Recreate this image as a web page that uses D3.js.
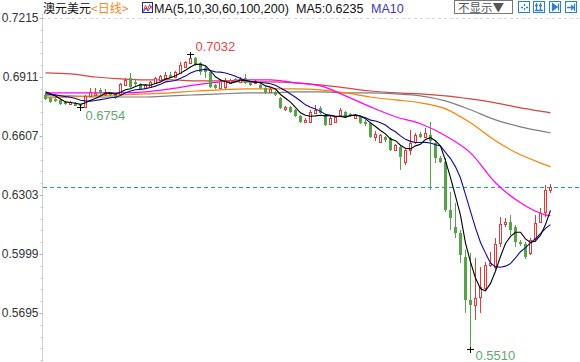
<!DOCTYPE html>
<html><head><meta charset="utf-8">
<script src="https://cdn.jsdelivr.net/npm/d3@7"></script>
<style>body{margin:0;background:#fff;} svg{display:block;}</style>
</head><body>
<svg id="c" width="580" height="362"></svg>
<script>
// ---------- data (AUD/USD daily) ----------
const openP = [0.6819,0.6803,0.6798,0.6793,0.6783,0.6772,0.6778,0.6767,0.6757,0.6814,
0.6819,0.6845,0.6824,0.6829,0.6824,0.6824,0.6870,0.6906,0.6886,0.6875,
0.6855,0.6860,0.6881,0.6896,0.6906,0.6922,0.6911,0.6932,0.6963,0.6984,
0.7009,0.6984,0.6958,0.6937,0.6870,0.6855,0.6860,0.6881,0.6901,0.6886,
0.6906,0.6886,0.6881,0.6870,0.6855,0.6834,0.6834,0.6803,0.6747,0.6757,
0.6742,0.6711,0.6680,0.6680,0.6726,0.6752,0.6716,0.6669,0.6680,0.6716,
0.6731,0.6721,0.6700,0.6705,0.6680,0.6675,0.6602,0.6577,0.6602,0.6597,
0.6536,0.6551,0.6474,0.6536,0.6577,0.6618,0.6602,0.6613,0.6572,0.6494,
0.6474,0.6227,0.6139,0.6108,0.5984,0.5763,0.5737,0.5778,0.5825,0.5943,
0.5933,0.6057,0.6154,0.6165,0.6139,0.6062,0.6051,0.6005,0.6082,0.6165,
0.6216,0.6330];
const highP = [0.6829,0.6808,0.6803,0.6798,0.6788,0.6788,0.6783,0.6772,0.6819,0.6855,
0.6855,0.6855,0.6850,0.6834,0.6829,0.6881,0.6906,0.6932,0.6896,0.6881,
0.6875,0.6891,0.6911,0.6922,0.6937,0.6937,0.6942,0.6989,0.6994,0.7032,
0.7014,0.6989,0.6968,0.6942,0.6875,0.6901,0.6906,0.6901,0.6906,0.6911,
0.6927,0.6891,0.6896,0.6875,0.6860,0.6855,0.6839,0.6808,0.6762,0.6762,
0.6747,0.6716,0.6700,0.6742,0.6767,0.6762,0.6721,0.6711,0.6711,0.6752,
0.6736,0.6726,0.6721,0.6711,0.6690,0.6680,0.6633,0.6618,0.6608,0.6602,
0.6566,0.6556,0.6546,0.6639,0.6623,0.6628,0.6649,0.6680,0.6587,0.6505,
0.6494,0.6319,0.6263,0.6124,0.6021,0.6005,0.5979,0.5933,0.5959,0.6010,
0.6082,0.6190,0.6185,0.6201,0.6149,0.6072,0.6062,0.6082,0.6201,0.6237,
0.6355,0.6360];
const lowP = [0.6793,0.6778,0.6783,0.6767,0.6767,0.6767,0.6762,0.6754,0.6757,0.6808,
0.6814,0.6819,0.6814,0.6814,0.6798,0.6819,0.6865,0.6855,0.6865,0.6845,
0.6850,0.6855,0.6875,0.6891,0.6901,0.6906,0.6906,0.6927,0.6958,0.6978,
0.6968,0.6922,0.6906,0.6855,0.6850,0.6850,0.6850,0.6875,0.6886,0.6881,
0.6875,0.6865,0.6875,0.6850,0.6824,0.6829,0.6814,0.6747,0.6736,0.6726,
0.6705,0.6675,0.6675,0.6675,0.6721,0.6721,0.6659,0.6664,0.6675,0.6711,
0.6700,0.6705,0.6695,0.6669,0.6659,0.6597,0.6582,0.6572,0.6577,0.6530,
0.6530,0.6433,0.6458,0.6510,0.6566,0.6597,0.6597,0.6330,0.6469,0.6469,
0.6216,0.6124,0.6082,0.5954,0.5696,0.5510,0.5660,0.5696,0.5815,0.5933,
0.5918,0.6036,0.6139,0.6098,0.6036,0.6041,0.5974,0.5995,0.6062,0.6160,
0.6190,0.6314];
const closeP = [0.6798,0.6783,0.6788,0.6772,0.6772,0.6783,0.6762,0.6762,0.6814,0.6834,
0.6829,0.6829,0.6834,0.6819,0.6803,0.6875,0.6896,0.6860,0.6875,0.6850,
0.6870,0.6886,0.6906,0.6917,0.6922,0.6906,0.6937,0.6973,0.6989,0.7009,
0.6973,0.6937,0.6937,0.6860,0.6855,0.6891,0.6896,0.6896,0.6891,0.6901,
0.6881,0.6870,0.6891,0.6855,0.6829,0.6850,0.6819,0.6752,0.6757,0.6731,
0.6711,0.6680,0.6690,0.6731,0.6742,0.6726,0.6664,0.6700,0.6705,0.6742,
0.6705,0.6711,0.6716,0.6675,0.6669,0.6602,0.6618,0.6613,0.6587,0.6536,
0.6561,0.6499,0.6536,0.6572,0.6613,0.6602,0.6623,0.6582,0.6494,0.6474,
0.6227,0.6185,0.6108,0.5995,0.5763,0.5737,0.5773,0.5830,0.5943,0.5954,
0.6051,0.6154,0.6165,0.6124,0.6062,0.6051,0.5984,0.6072,0.6160,0.6211,
0.6330,0.6345];
// closes before the first visible bar (seed MA5 / MA10)
const priorCloses = [0.6808,0.6814,0.6819,0.6814,0.6814,0.6834,0.6845,0.6850,0.6845];

// long moving averages at every 5th bar
const maIdx  = [0,5,10,15,20,25,30,35,40,45,50,55,60,65,70,75,80,85,90,95,100,101];
const ma30  = [0.6829,0.6829,0.6829,0.6829,0.6834,0.6850,0.6870,0.6886,0.6896,0.6896,0.6881,0.6865,0.6814,0.6757,0.6706,0.6670,0.6608,0.6520,0.6366,0.6263,0.6201,0.6196];
const ma60  = [0.6803,0.6808,0.6814,0.6819,0.6824,0.6829,0.6839,0.6845,0.6850,0.6850,0.6850,0.6845,0.6829,0.6808,0.6793,0.6778,0.6747,0.6675,0.6582,0.6510,0.6458,0.6448];
const ma100 = [0.6814,0.6814,0.6808,0.6808,0.6808,0.6814,0.6819,0.6824,0.6829,0.6829,0.6834,0.6834,0.6829,0.6829,0.6824,0.6814,0.6788,0.6742,0.6690,0.6654,0.6628,0.6623];
const ma200 = [0.6932,0.6927,0.6911,0.6901,0.6896,0.6896,0.6891,0.6891,0.6886,0.6886,0.6881,0.6870,0.6855,0.6839,0.6829,0.6824,0.6814,0.6798,0.6778,0.6752,0.6731,0.6726];

const yTicks = [0.7215,0.6911,0.6607,0.6303,0.5999,0.5695];
const markHigh = {i:29, v:0.7032, label:"0.7032"};
const markLows = [{i:7, v:0.6754, label:"0.6754"},{i:85, v:0.5510, label:"0.5510"}];

// ---------- drawing ----------
const svg = d3.select('#c');
const N = closeP.length;
const x = d3.scaleLinear().domain([0, N-1]).range([45.5, 550.5]);
const y = d3.scaleLinear().domain([0.6911, 0.5695]).range([77, 313]);
const RED = '#e23a3a', GREEN = '#56a34c';
const FONT = '"Liberation Sans", Arial, "Noto Sans CJK SC", sans-serif';

// top dotted line
svg.append('line').attr('x1',42).attr('x2',580).attr('y1',18.5).attr('y2',18.5)
  .attr('stroke','#d8d8d8').attr('stroke-dasharray','3,3');

// y axis
svg.append('line').attr('x1',42.5).attr('x2',42.5).attr('y1',14).attr('y2',362).attr('stroke','#d0d0d0');
const minorStep = (yTicks[0]-yTicks[1])/5;
const minors = d3.range(1, 60).map(k => yTicks[0] - k*minorStep)
  .filter((v,k) => (k+1)%5 !== 0 && y(v) < 362);
svg.append('g').selectAll('line').data(minors).join('line')
  .attr('x1',40.5).attr('x2',42.5).attr('y1',d=>Math.round(y(d))+0.5).attr('y2',d=>Math.round(y(d))+0.5)
  .attr('stroke','#c8c8c8');
const ax = d3.axisLeft(y).tickValues(yTicks).tickSize(3).tickPadding(1).tickFormat(d3.format('.4f'));
const axg = svg.append('g').attr('transform','translate(42.5,0)').call(ax);
axg.select('.domain').remove();
axg.selectAll('.tick line').attr('stroke','#8cbbe6');
axg.selectAll('.tick text').attr('fill','#333').style('font-family',FONT).style('font-size','12px');

// current price dashed line
svg.append('line').attr('x1',43).attr('x2',580)
  .attr('y1',Math.round(y(closeP[N-1]))+0.5).attr('y2',Math.round(y(closeP[N-1]))+0.5)
  .attr('stroke','#1e8cf0').attr('stroke-width',1).attr('stroke-dasharray','4,3');

// moving averages
const allC = priorCloses.concat(closeP);
const maN = n => closeP.map((c,i) => { const j = i + priorCloses.length; return d3.mean(allC.slice(j-n+1, j+1)); });
const ma5 = maN(5), ma10 = maN(10);
const lineI = d3.line().x((d,i)=>x(i)).y(d=>y(d));
const lineS = d3.line().x((d,k)=>x(maIdx[k])).y(d=>y(d)).curve(d3.curveMonotoneX);
[[ma200,'#d9443f'],[ma100,'#7f7f7f'],[ma60,'#ff8000'],[ma30,'#ff00ff']].forEach(([arr,col])=>{
  svg.append('path').attr('d',lineS(arr)).attr('fill','none').attr('stroke',col).attr('stroke-width',1.2);
});

// candles
const idx = d3.range(N);
const cg = svg.append('g');
cg.selectAll('line.w').data(idx).join('line').attr('class','w')
  .attr('x1',i=>x(i)).attr('x2',i=>x(i)).attr('y1',i=>y(highP[i])).attr('y2',i=>y(lowP[i]))
  .attr('stroke',i=>closeP[i]>=openP[i]?RED:GREEN).attr('stroke-width',1).attr('shape-rendering','crispEdges');
cg.selectAll('rect.b').data(idx).join('rect').attr('class','b')
  .attr('shape-rendering','crispEdges')
  .each(function(i){
    const up = closeP[i] >= openP[i];
    const top = y(Math.max(openP[i],closeP[i])), bot = y(Math.min(openP[i],closeP[i]));
    const h = Math.max(1, bot-top);
    const s = d3.select(this);
    if (up) s.attr('x',x(i)-1).attr('width',2).attr('y',Math.round(top)+0.5).attr('height',Math.max(1,Math.round(h)))
             .attr('fill','#fff').attr('stroke',RED).attr('stroke-width',1);
    else s.attr('x',x(i)-1.5).attr('width',3).attr('y',Math.round(top)).attr('height',Math.max(1,Math.round(h)))
             .attr('fill',GREEN);
  });

[[ma10,'#0a0a96'],[ma5,'#000']].forEach(([arr,col])=>{
  svg.append('path').attr('d',lineI(arr)).attr('fill','none').attr('stroke',col).attr('stroke-width',1.1);
});

// high / low markers
function cross(cx, cy){
  svg.append('line').attr('x1',cx-3.5).attr('x2',cx+3.5).attr('y1',cy).attr('y2',cy).attr('stroke','#000').attr('shape-rendering','crispEdges');
  svg.append('line').attr('x1',cx).attr('x2',cx).attr('y1',cy-3).attr('y2',cy+3).attr('stroke','#000').attr('shape-rendering','crispEdges');
}
cross(x(markHigh.i), Math.round(y(markHigh.v))+0.5);
svg.append('text').attr('x',x(markHigh.i)+5).attr('y',y(markHigh.v)-3).text(markHigh.label)
  .attr('fill','#e0484a').style('font-family',FONT).style('font-size','13px');
markLows.forEach(m=>{
  cross(x(m.i), Math.round(y(m.v))+0.5);
  svg.append('text').attr('x',x(m.i)+5).attr('y',Math.min(y(m.v)+13, 360)).text(m.label)
    .attr('fill','#62a86e').style('font-family',FONT).style('font-size','13px');
});

// ---------- header ----------
const hd = svg.append('g');
const t = hd.append('text').attr('x',43).attr('y',13).style('font-family',FONT).style('font-size','13px');
t.append('tspan').text('澳元美元').attr('fill','#111').style('font-family','"Noto Sans CJK SC"').style('font-size','12px');
t.append('tspan').text('<日线>').attr('fill','#f08a24').style('font-family','"Noto Sans CJK SC"').style('font-size','12px');
// icon
hd.append('rect').attr('x',142.5).attr('y',2.5).attr('width',10).attr('height',10).attr('fill','#fff').attr('stroke','#1f2a80');
hd.append('path').attr('d','M143.5,10.5 L145.5,5.5 L147.5,9.5 L149.5,4.5 L151.5,8.5').attr('fill','none').attr('stroke','#d33');
hd.append('path').attr('d','M143.5,11.5 L146,8 L148,11 L151.5,6').attr('fill','none').attr('stroke','#33c');
hd.append('text').attr('x',154).attr('y',13).text('MA(5,10,30,60,100,200)').attr('fill','#111').style('font-family',FONT).style('font-size','12.5px');
hd.append('text').attr('x',296).attr('y',13).text('MA5:0.6235').attr('fill','#111').style('font-family',FONT).style('font-size','12.5px');
hd.append('text').attr('x',371).attr('y',13).text('MA10').attr('fill','#3b36b8').style('font-family',FONT).style('font-size','12.5px');
// button
hd.append('rect').attr('x',454.5).attr('y',0.5).attr('width',58).attr('height',13).attr('fill','#fff').attr('stroke','#777');
hd.append('text').attr('x',458).attr('y',12).text('不显示▼').attr('fill','#555').style('font-family','"Noto Sans CJK SC"').style('font-size','11.5px');
// tool icons
const icons = [518,533,549,565];
icons.forEach((ix,k)=>{
  hd.append('rect').attr('x',ix+0.5).attr('y',1.5).attr('width',11).attr('height',11).attr('fill','#fff').attr('stroke','#2b7fd0');
  let d='';
  if(k===0) d=`M${ix+6.5},4 V6 M${ix+6.5},8 V10 M${ix+3},7.5 H${ix+5} M${ix+8},7.5 H${ix+10}`;
  if(k===1) d=`M${ix+3.5},3 V10.5 M${ix+2},10.5 H${ix+10} M${ix+7.5},3 V10.5 M${ix+2},5.5 H${ix+5} M${ix+6},5.5 H${ix+9}`;
  if(k===2) d=`M${ix+3.5},3.5 V10.5 L${ix+8},7 Z M${ix+9.5},3.5 V10.5`;
  if(k===3) d=`M${ix+2},7.5 H${ix+8} M${ix+6},5 L${ix+8.5},7.5 L${ix+6},10 M${ix+9.5},3.5 V11`;
  hd.append('path').attr('d',d).attr('fill',k===2?'#2b7fd0':'none').attr('stroke','#2b7fd0').attr('stroke-width',1.3);
});
</script>
</body></html>
